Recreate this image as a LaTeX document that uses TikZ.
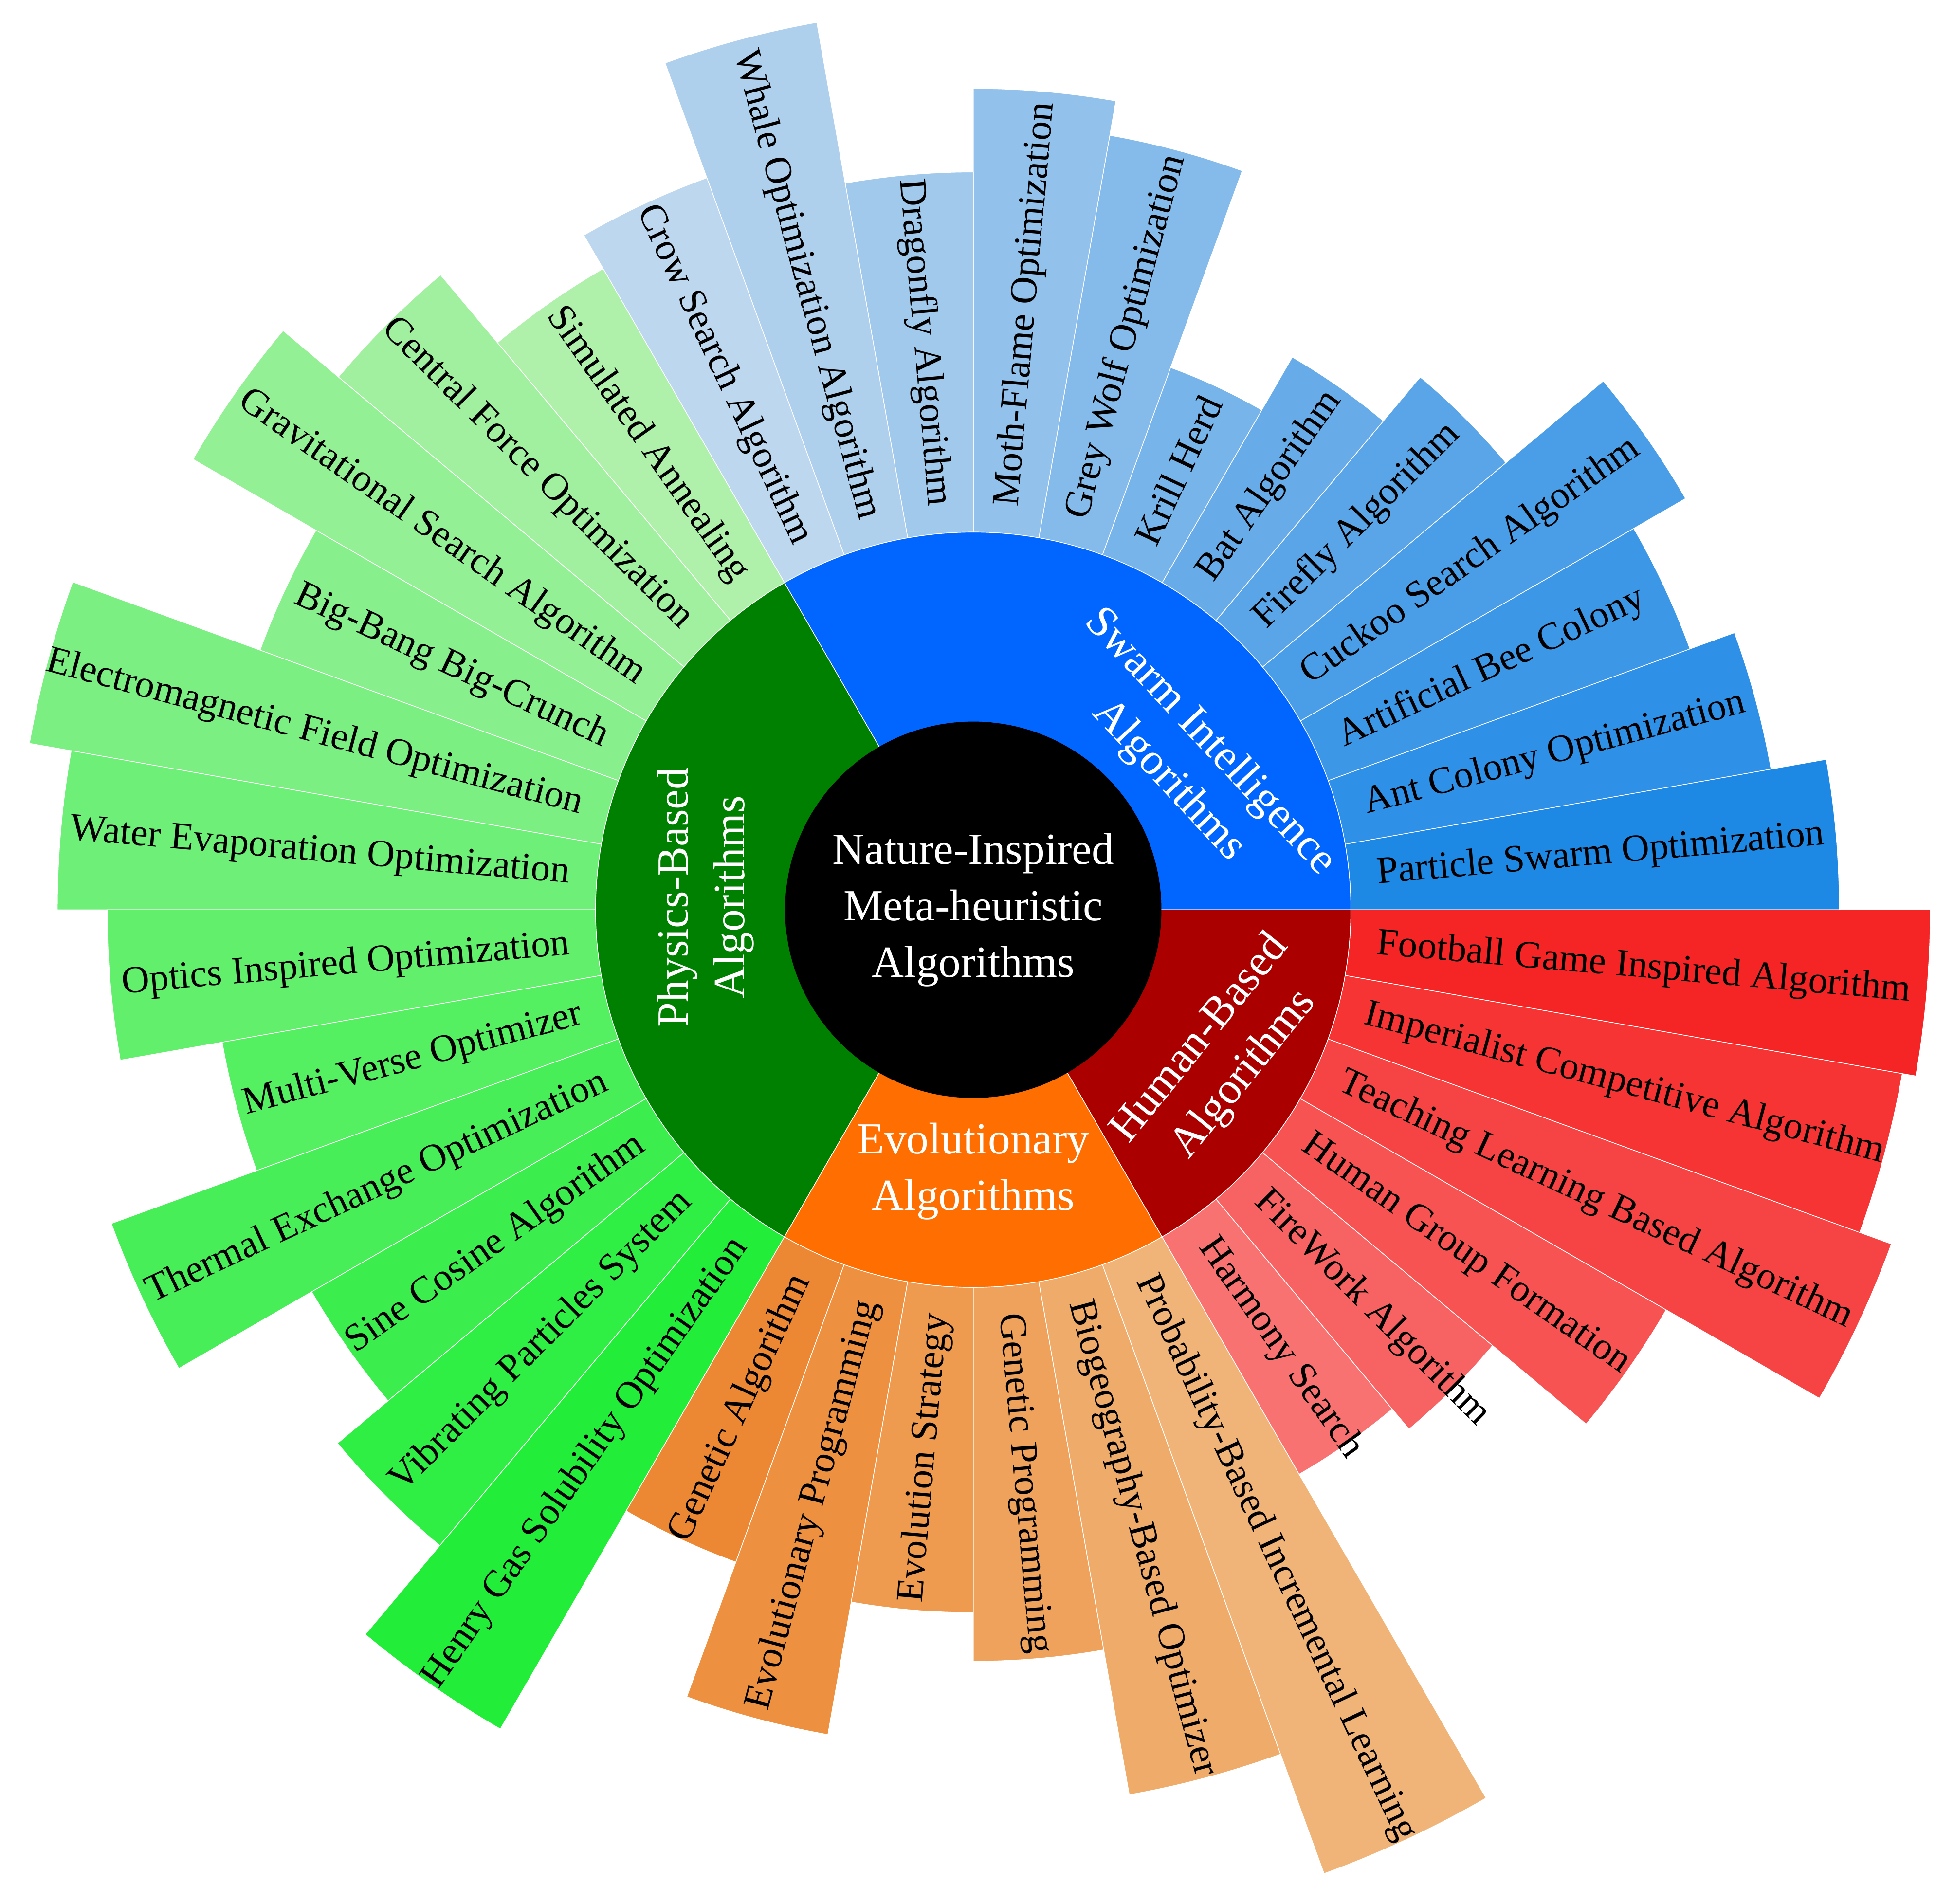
\documentclass[tikz,border=0pt]{standalone}
\usepackage{fontspec}
\setmainfont{Liberation Serif}
\definecolor{sA}{RGB}{30,136,229}\definecolor{sB}{RGB}{189,215,238}
\definecolor{pA}{RGB}{175,240,170}\definecolor{pB}{RGB}{34,238,58}
\definecolor{eA}{RGB}{236,136,51}\definecolor{eB}{RGB}{240,180,120}
\definecolor{hA}{RGB}{248,114,114}\definecolor{hB}{RGB}{245,37,37}
\definecolor{swarm}{RGB}{0,102,255}\definecolor{phys}{RGB}{0,128,0}
\definecolor{evo}{RGB}{255,110,0}\definecolor{hum}{RGB}{170,0,0}
\tikzset{
  lab/.style={font=\fontsize{22.5}{32}\selectfont, inner sep=0pt},
  glab/.style={inner sep=0pt, font=\fontsize{26}{33}\selectfont, text=white, align=center},
  wedge/.style={draw=white, line width=0.4pt},
}
\newcommand\mysector[4]{% start, end, rin, rout
  (#1:#3) -- (#1:#4) arc[start angle=#1, end angle=#2, radius=#4] -- (#2:#3) arc[start angle=#2, end angle=#1, radius=#3] -- cycle}
\newcommand\leafgroup[6]{% prefix, start, colA, colB, N, list
  \foreach \r/\t [count=\k from 0] in {#6} {
    \pgfmathsetmacro\a{#2+10*\k}
    \pgfmathsetmacro\b{\a+10}
    \pgfmathsetmacro\m{\a+5}
    \pgfmathtruncatemacro\p{100-100*\k/(#5-1)}
    \colorlet{lc}{#3!\p!#4}
    \fill[lc, wedge] \mysector{\a}{\b}{303}{\r};
    \pgfmathtruncatemacro\fl{(\m>90)&&(\m<270)?1:0}
    \ifnum\fl=1
      \node[lab, anchor=east, rotate=\m+180] (#1\k) at (\m:325) {\t};
    \else
      \node[lab, anchor=west, rotate=\m] (#1\k) at (\m:325) {\t};
    \fi
  }}
\begin{document}
\begin{tikzpicture}[x=0.0256cm, y=0.0256cm]
\useasboundingbox (-781,-797.5) rectangle (787,730);
\leafgroup{s}{0}{sA}{sB}{12}{695/Particle Swarm Optimization, 650/Ant Colony Optimization, 612/Artificial Bee Colony, 660/Cuckoo Search Algorithm, 558/Firefly Algorithm, 512/Bat Algorithm, 463/Krill Herd, 631/Grey Wolf Optimization, 659/Moth-Flame Optimization, 592/Dragonfly Algorithm, 723/Whale Optimization Algorithm, 625/Crow Search Algorithm}
\leafgroup{p}{120}{pA}{pB}{12}{594/Simulated Annealing, 665/Central Force Optimization, 723/Gravitational Search Algorithm, 609/Big-Bang Big-Crunch, 769/Electromagnetic Field Optimization, 735/Water Evaporation Optimization, 695/Optics Inspired Optimization, 612/Multi-Verse Optimizer, 736/Thermal Exchange Optimization, 613/Sine Cosine Algorithm, 666/Vibrating Particles System, 759/Henry Gas Solubility Optimization}
\leafgroup{e}{240}{eA}{eB}{6}{557/Genetic Algorithm, 672/Evolutionary Programming, 564/Evolution Strategy, 603/Genetic Programming, 721/Biogeography-Based Optimizer, 823/Probability-Based Incremental Learning}
\leafgroup{h}{300}{hA}{hB}{6}{523/Harmony Search, 544/FireWork Algorithm, 642/Human Group Formation, 784/Teaching Learning Based Algorithm, 757/Imperialist Competitive Algorithm, 768/Football Game Inspired Algorithm}
\fill[swarm, wedge] \mysector{0}{120}{150}{303};
\fill[phys, wedge] \mysector{120}{240}{150}{303};
\fill[evo, wedge] \mysector{240}{300}{150}{303};
\fill[hum, wedge] \mysector{300}{360}{150}{303};
\fill[black] (0,0) circle (151);
\node[glab] (root) at (0,0) {Nature-Inspired\\Meta-heuristic\\Algorithms};
\node[glab, rotate=-47] (gs) at (173,119) {Swarm Intelligence\\Algorithms};
\node[glab, rotate=90] (gp) at (-215,10) {Physics-Based\\Algorithms};
\node[glab] (ge) at (0,-210) {Evolutionary\\Algorithms};
\node[glab, rotate=51] (gh) at (200,-118) {Human-Based\\Algorithms};
\end{tikzpicture}
\end{document}
